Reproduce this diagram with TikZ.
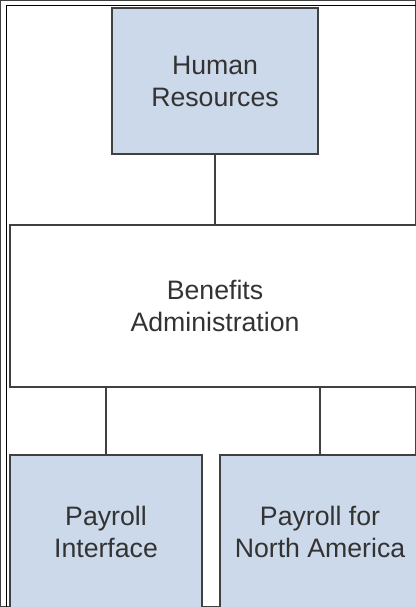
\documentclass[tikz,border=0pt]{standalone}
\usepackage{fontspec}
\setmainfont{Liberation Sans}
\usepackage{xcolor}
\usepackage{tikz}
\definecolor{boxfill}{HTML}{CCD9EA}
\definecolor{edge}{HTML}{404040}
\definecolor{ink}{HTML}{333333}
\tikzset{
  unit/.style={rectangle, draw=edge, line width=1.6pt, text=ink, align=center,
    font=\fontsize{20}{24}\selectfont, inner sep=0pt},
  blue/.style={unit, fill=boxfill},
  white/.style={unit, fill=white},
  link/.style={draw=edge, line width=1.6pt},
  frame/.style={draw=black, line width=0.8pt},
}

\begin{document}
\begin{tikzpicture}[x=0.75pt,y=0.75pt]
  \useasboundingbox (0,0) rectangle (416,-607);
  \clip (0,0) rectangle (416,-607);
  \fill[white] (0,0) rectangle (416,-607);

  \draw[frame] (6.5,-607) -- (6.5,-5.5) -- (416,-5.5);

  \node[blue, minimum width=154.5pt, minimum height=109.5pt] (hr) at (215,-81) {Human\\Resources};
  \node[white, minimum width=307.5pt, minimum height=121.5pt] (ben) at (215,-306) {Benefits\\Administration};
  \node[blue, minimum width=144pt, minimum height=115.5pt] (pi) at (106,-532) {Payroll\\Interface};
  \node[blue, minimum width=150pt, minimum height=115.5pt] (pna) at (320,-532) {Payroll for\\North America};

  \draw[link] (hr.south) -- (ben.north);
  \draw[link] (ben.south -| pi.north) -- (pi.north);
  \draw[link] (ben.south -| pna.north) -- (pna.north);
\end{tikzpicture}
\end{document}
